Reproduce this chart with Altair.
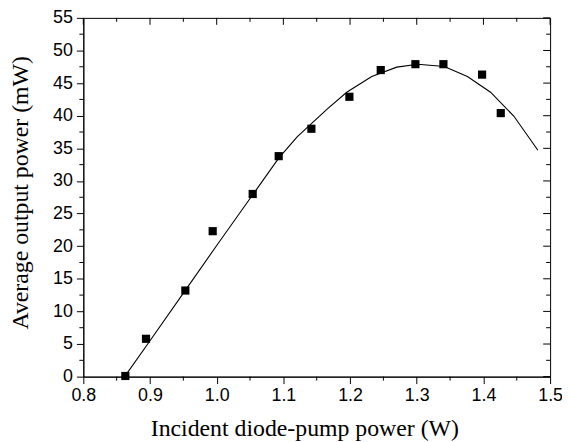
import altair as alt
import pandas as pd

# measured points
x_meas = [0.863, 0.894, 0.953, 0.994, 1.054, 1.093, 1.142, 1.199, 1.246, 1.298, 1.340, 1.398, 1.426]
y_meas = [0.1, 5.8, 13.2, 22.3, 28.0, 33.8, 38.0, 42.9, 47.0, 47.9, 47.9, 46.3, 40.4]

# fitted curve
x_fit = [0.862, 0.9, 0.95, 1.0, 1.05, 1.093, 1.121, 1.1656, 1.195, 1.2325, 1.270, 1.3017,
         1.3413, 1.376, 1.4107, 1.4455, 1.4817]
y_fit = [0.0, 5.5, 12.8, 20.1, 27.3, 33.5, 36.8, 41.0, 43.6, 46.0, 47.45, 47.9,
         47.55, 46.0, 43.6, 39.95, 34.7]

x_major = [0.8, 0.9, 1.0, 1.1, 1.2, 1.3, 1.4, 1.5]
x_minor = [0.85, 0.95, 1.05, 1.15, 1.25, 1.35, 1.45]
y_major = [0, 5, 10, 15, 20, 25, 30, 35, 40, 45, 50, 55]
y_minor = [2.5, 7.5, 12.5, 17.5, 22.5, 27.5, 32.5, 37.5, 42.5, 47.5, 52.5]

x_title = "Incident diode-pump power (W)"
y_title = "Average output power (mW)"

W, H = 471, 362
MAJ, MIN = 7, 4

pts = pd.DataFrame({"x": x_meas, "y": y_meas})
fit = pd.DataFrame({"x": x_fit, "y": y_fit})
xmaj = pd.DataFrame({"v": x_major})
xmin = pd.DataFrame({"v": x_minor})
ymaj = pd.DataFrame({"v": y_major})
ymin = pd.DataFrame({"v": y_minor})

xs = alt.Scale(domain=[0.8, 1.5], nice=False, zero=False)
ys = alt.Scale(domain=[0, 55], nice=False, zero=False)

LABEL_FONT = "Liberation Sans"
TITLE_FONT = "Liberation Serif"

x_axis = alt.Axis(
    orient="bottom", values=x_major, tickSize=MAJ, grid=False, domain=True,
    domainColor="black", tickColor="black", tickWidth=1, title=x_title,
    format=".1f", labelFont=LABEL_FONT, labelFontSize=18, labelColor="black",
    labelPadding=3, labelFlush=False, labelOverlap=False,
    titleFont=TITLE_FONT, titleFontSize=24, titleFontWeight="normal",
    titleColor="black", titleX=223, titleY=59, titleBaseline="alphabetic",
)
y_axis = alt.Axis(
    orient="left", values=y_major, tickSize=MAJ, grid=False, domain=True,
    domainColor="black", tickColor="black", tickWidth=1, title=y_title,
    format="d", labelFont=LABEL_FONT, labelFontSize=18, labelColor="black",
    labelPadding=4, labelOverlap=False,
    titleFont=TITLE_FONT, titleFontSize=24, titleFontWeight="normal",
    titleColor="black", titleX=-56, titleY=176, titleBaseline="alphabetic",
)


def X(field):
    return alt.X(field, type="quantitative", scale=xs, axis=x_axis)


def Y(field):
    return alt.Y(field, type="quantitative", scale=ys, axis=y_axis)


line = alt.Chart(fit).mark_line(color="black", strokeWidth=1.1).encode(x=X("x"), y=Y("y"))

main = alt.Chart(pts).mark_point(shape="square", filled=True, size=68, color="black",
                                 opacity=1).encode(x=X("x"), y=Y("y"))

rule_kw = dict(color="black", strokeWidth=1)

# bottom minor ticks (outward)
b_min = alt.Chart(xmin).mark_rule(**rule_kw).encode(
    x=X("v"), y=alt.value(H), y2=alt.value(H + MIN))
# left minor ticks (outward)
l_min = alt.Chart(ymin).mark_rule(**rule_kw).encode(
    y=Y("v"), x=alt.value(0), x2=alt.value(-MIN))
# top ticks (inward)
t_maj = alt.Chart(xmaj).mark_rule(**rule_kw).encode(
    x=X("v"), y=alt.value(0), y2=alt.value(MAJ))
t_min = alt.Chart(xmin).mark_rule(**rule_kw).encode(
    x=X("v"), y=alt.value(0), y2=alt.value(MIN))
# right ticks (inward)
r_maj = alt.Chart(ymaj).mark_rule(**rule_kw).encode(
    y=Y("v"), x=alt.value(W), x2=alt.value(W - MAJ))
r_min = alt.Chart(ymin).mark_rule(**rule_kw).encode(
    y=Y("v"), x=alt.value(W), x2=alt.value(W - MIN))

chart = alt.layer(line, main, b_min, l_min, t_maj, t_min, r_maj, r_min).properties(
    width=W, height=H,
    autosize=alt.AutoSizeParams(type="none"),
    padding={"left": 76, "top": 8, "right": 12, "bottom": 64},
    background="white",
).configure_view(stroke="black", strokeWidth=1)

chart.save("out.html", embed_options={"renderer": "svg", "actions": False})
